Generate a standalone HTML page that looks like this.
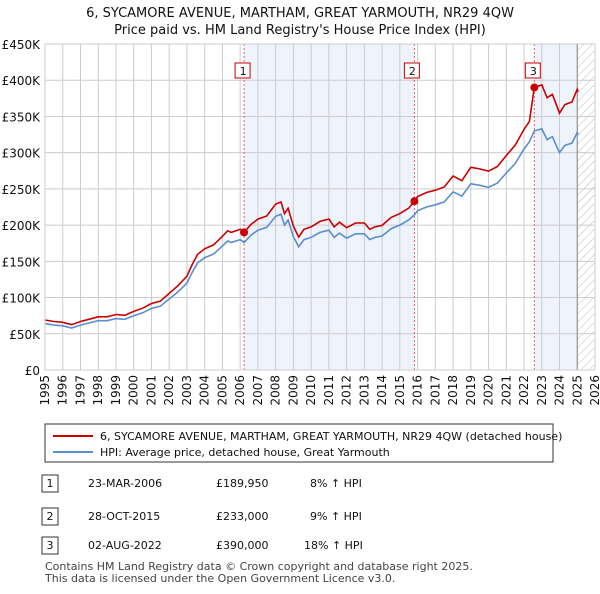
<!DOCTYPE html>
<html><head><meta charset="utf-8"><style>
body{margin:0;background:#fff;font-family:"DejaVu Sans","Liberation Sans",sans-serif;}
svg text{font-family:"DejaVu Sans","Liberation Sans",sans-serif;}
</style></head><body>
<svg width="600" height="590" viewBox="0 0 600 590">
<defs><pattern id="hatch" width="6" height="6" patternUnits="userSpaceOnUse" patternTransform="rotate(45)"><line x1="0" y1="0" x2="0" y2="6" stroke="#bbb" stroke-width="1"/></pattern></defs>
<text x="300" y="17" text-anchor="middle" font-size="13" fill="#111">6, SYCAMORE AVENUE, MARTHAM, GREAT YARMOUTH, NR29 4QW</text>
<text x="300" y="34" text-anchor="middle" font-size="13" fill="#111">Price paid vs. HM Land Registry's House Price Index (HPI)</text>
<g id="plot"></g>
<g>
<rect x="45" y="424" width="508" height="38" fill="#fff" stroke="#333"/>
<line x1="53" y1="436" x2="93" y2="436" stroke="#cc0000" stroke-width="2"/>
<text x="100" y="440" font-size="11" fill="#111">6, SYCAMORE AVENUE, MARTHAM, GREAT YARMOUTH, NR29 4QW (detached house)</text>
<line x1="53" y1="452" x2="93" y2="452" stroke="#5b8ed0" stroke-width="2"/>
<text x="100" y="456" font-size="11" fill="#111">HPI: Average price, detached house, Great Yarmouth</text>
</g>
<g id="table" font-size="11" fill="#111"></g>
<text x="45" y="570" font-size="11" fill="#444">Contains HM Land Registry data © Crown copyright and database right 2025.</text>
<text x="45" y="582" font-size="11" fill="#444">This data is licensed under the Open Government Licence v3.0.</text>
</svg>
<script>
const hpiYears=[1995,1995.5,1996,1996.5,1997,1997.5,1998,1998.5,1999,1999.5,2000,2000.5,2001,2001.5,2002,2002.5,2003,2003.3,2003.6,2004,2004.5,2005,2005.3,2005.5,2006,2006.22,2006.6,2007,2007.5,2008,2008.3,2008.5,2008.7,2009,2009.3,2009.6,2010,2010.5,2011,2011.3,2011.6,2012,2012.5,2013,2013.3,2013.6,2014,2014.5,2015,2015.5,2015.82,2016,2016.5,2017,2017.5,2018,2018.5,2019,2019.5,2020,2020.5,2021,2021.5,2022,2022.3,2022.58,2023,2023.3,2023.6,2024,2024.3,2024.7,2025,2025.05];
const hpiValues=[64,62,61,58,62,65,68,68,71,70,75,79,85,88,98,108,120,135,148,155,160,171,178,176,180,176,186,193,197,212,215,200,207,184,170,180,183,190,193,183,189,182,188,188,180,183,185,195,200,207,214,220,225,228,232,246,240,257,255,252,258,272,285,305,315,330,333,318,322,300,310,313,328,325];
const saleYears=[2006.22,2015.82,2022.58];
const salePrices=[189950,233000,390000];
const saleDates=["23-MAR-2006","28-OCT-2015","02-AUG-2022"];
const salePct=["8% ↑ HPI","9% ↑ HPI","18% ↑ HPI"];
const yTicks=[0,50,100,150,200,250,300,350,400,450];
const yTickLabels=["£0","£50K","£100K","£150K","£200K","£250K","£300K","£350K","£400K","£450K"];
const xTicks=[1995,1996,1997,1998,1999,2000,2001,2002,2003,2004,2005,2006,2007,2008,2009,2010,2011,2012,2013,2014,2015,2016,2017,2018,2019,2020,2021,2022,2023,2024,2025,2026];

const L=45,R=595,T=44,B=370,X0=1995,X1=2026,YMAX=450;
const xs=y=>L+(y-X0)/(X1-X0)*(R-L);
const ys=v=>B-v/YMAX*(B-T);
const NS="http://www.w3.org/2000/svg";
const plot=document.getElementById('plot');
function mk(tag,attrs,parent){const e=document.createElementNS(NS,tag);for(const k in attrs)e.setAttribute(k,attrs[k]);(parent||plot).appendChild(e);return e;}
function hpiAt(t){for(let i=0;i<hpiYears.length-1;i++){if(t>=hpiYears[i]&&t<=hpiYears[i+1]){const f=(t-hpiYears[i])/(hpiYears[i+1]-hpiYears[i]);return hpiValues[i]+f*(hpiValues[i+1]-hpiValues[i]);}}return hpiValues[hpiValues.length-1];}

let sh=mk('rect',{x:xs(saleYears[0]),y:T,width:xs(saleYears[1])-xs(saleYears[0]),height:B-T,fill:'#eef3fc'});


let sh2=mk('rect',{x:xs(saleYears[2]),y:T,width:xs(2025)-xs(saleYears[2]),height:B-T,fill:'#eef3fc'});


let hz=mk('rect',{x:xs(2025),y:T,width:xs(2026)-xs(2025),height:B-T,fill:'url(#hatch)'});


xTicks.forEach(t=>{
 const l=mk('line',{x1:xs(t),x2:xs(t),y1:T,y2:B,stroke:'#ccc','stroke-width':1});
 
 
 const tx=mk('text',{x:0,y:0,'font-size':12,fill:'#111','text-anchor':'end',transform:`translate(${xs(t)+4},${B+5}) rotate(-90)`});
 tx.textContent=t;
 
 
});
yTicks.forEach((v,i)=>{
 const l=mk('line',{x1:L,x2:R,y1:ys(v),y2:ys(v),stroke:'#ccc','stroke-width':1});
 
 
 const tx=mk('text',{x:L-5,y:ys(v)+5,'font-size':12,fill:'#111','text-anchor':'end'});
 tx.textContent=yTickLabels[i];
 
 
});
let el=mk('line',{x1:xs(2025),x2:xs(2025),y1:T,y2:B,stroke:'#888','stroke-width':1});


saleYears.forEach((s,i)=>{
 const l=mk('line',{x1:xs(s),x2:xs(s),y1:T,y2:B,stroke:'#e06060','stroke-width':1,'stroke-dasharray':'2,2'});
 
 
});
const hp=hpiYears.map((y,i)=>xs(y).toFixed(1)+','+ys(hpiValues[i]).toFixed(1)).join(' ');
let hl=mk('polyline',{points:hp,fill:'none',stroke:'#5b8ed0','stroke-width':1.6});


const pp=hpiYears.map((y,i)=>{let k=0;for(let j=0;j<saleYears.length;j++)if(y>=saleYears[j])k=j;const v=salePrices[k]/1000*hpiValues[i]/hpiAt(saleYears[k]);return xs(y).toFixed(1)+','+ys(v).toFixed(1);}).join(' ');
let pl=mk('polyline',{points:pp,fill:'none',stroke:'#cc0000','stroke-width':1.6});


saleYears.forEach((s,i)=>{
 const c=mk('circle',{cx:xs(s),cy:ys(salePrices[i]/1000),r:4,fill:'#cc0000'});
 
 
 const bx=xs(s)-(i==0?1:i==2?1:2);
 const r=mk('rect',{x:bx-8,y:63,width:15,height:15,fill:'#fff',stroke:'#cc0000'});
 
 
 const t=mk('text',{x:bx,y:75,'font-size':11,'text-anchor':'middle',fill:'#111'});
 t.textContent=i+1;
 
 
});
let fr=mk('rect',{x:L,y:T,width:R-L,height:B-T,fill:'none',stroke:'#ccc'});


const tb=document.getElementById('table');
const rowY=[487,520,549];
saleYears.forEach((s,i)=>{
 const r=mk('rect',{x:42,y:rowY[i]-12,width:16,height:17,fill:'#fff',stroke:'#333'},tb);
 
 
 const n=mk('text',{x:50,y:rowY[i],'text-anchor':'middle'},tb);n.textContent=i+1;
 
 
 const d=mk('text',{x:88,y:rowY[i]},tb);d.textContent=saleDates[i];
 
 
 const p=mk('text',{x:216,y:rowY[i]},tb);p.textContent='£'+salePrices[i].toLocaleString('en-GB');
 
 
 const h=mk('text',{x:i==2?304:310,y:rowY[i]},tb);h.textContent=salePct[i];
 
 
});
</script>
</body></html>
